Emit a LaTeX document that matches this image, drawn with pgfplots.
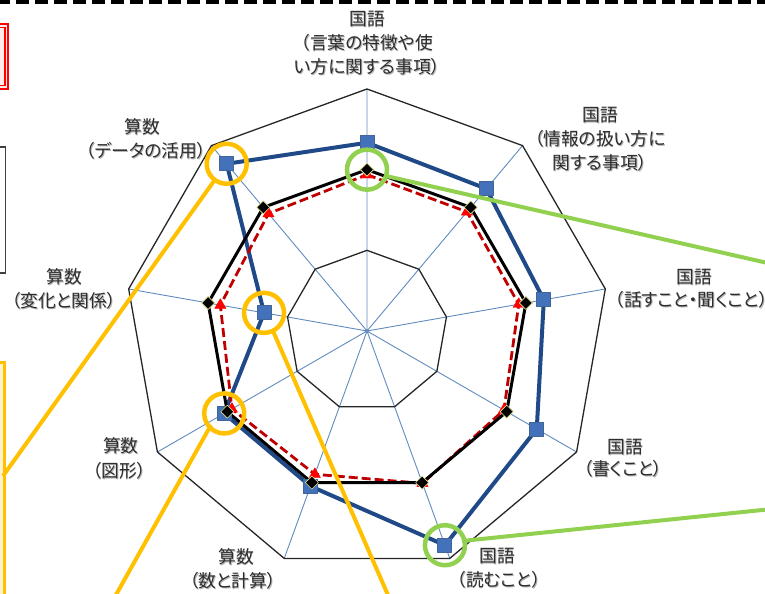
\documentclass[border=0pt]{standalone}
\usepackage{fontspec}
\setmainfont{Noto Sans CJK JP}[RawFeature={+palt}]
\usepackage{pgfplots}
\usepackage{pgfplotstable}
\pgfplotsset{compat=1.18}
\usepgfplotslibrary{polar}
\definecolor{spoke}{RGB}{95,140,190}
\definecolor{bline}{RGB}{31,73,135}
\definecolor{bfill}{RGB}{68,114,186}
\definecolor{rline}{RGB}{192,0,0}
\definecolor{gcirc}{RGB}{146,208,80}
\definecolor{ycirc}{RGB}{255,192,0}
\definecolor{ypale}{RGB}{255,242,204}
\definecolor{txt}{RGB}{45,45,45}
\definecolor{mborder}{RGB}{225,225,140}

\pgfplotstableread{
ang school pref nat
90  116.7 96.9 100
50  115.1 96.4 100
10  111.3 95.5 100
330 121.5 98.0 100
290 141.3 100.5 100
250 102.4 94.5 100
210 102.2 96.7 100
170 64.8  92.3 100
130 135.3 95.0 100
90  116.7 96.9 100
}\radardata

\pgfplotstableread{
ang ring
90  50
50  50
10  50
330 50
290 50
250 50
210 50
170 50
130 50
90  50
}\ringA
\pgfplotstableread{
ang ring
90  150
50  150
10  150
330 150
290 150
250 150
210 150
170 150
130 150
90  150
}\ringB

\newcommand{\lbl}[4][center]{%
  \node[anchor=#1, text=black!30, inner sep=0pt] at (#2+0.9,#3+0.9) {#4};
  \node[anchor=#1, text=txt, inner sep=0pt] at (#2,#3) {#4};}

\begin{document}
\begin{tikzpicture}
\useasboundingbox (0,0) rectangle (765bp,594bp);
\begin{scope}
\clip (0,0) rectangle (765bp,594bp);
\begin{scope}[x=1bp,y=-1bp,yshift=594bp]
  % top dashed border
  \draw[black, line width=4bp, dash pattern=on 13bp off 6bp] (-3,2) -- (770,2);
  % red double box
  \fill[red!8] (-5,24) rectangle (8.3,89);
  \draw[red, line width=2bp] (-5,24) -- (8.3,24) -- (8.3,89) -- (-5,89);
  \draw[red, line width=1.5bp] (-5,27.5) -- (4.8,27.5) -- (4.8,85.5) -- (-5,85.5);
  % black box
  \draw[black!75, line width=1.2bp] (-5,147) -- (5.3,147) -- (5.3,273) -- (-5,273);
  % yellow box
  \draw[ycirc, fill=ypale, line width=3bp] (-20,363) rectangle (4.5,620);
\end{scope}

\begin{polaraxis}[
  at={(367bp,263bp)}, anchor=center,
  scale only axis, width=484bp, height=484bp,
  xmin=0, xmax=360, ymin=0, ymax=150,
  xtick={10,50,90,130,170,210,250,290,330},
  xticklabel style={opacity=0, text opacity=0, draw=none},
  ytick=\empty,
  major tick length=0pt,
  xmajorgrids, grid style={spoke, line width=0.9bp},
  axis line style={draw=none},
  clip=false,
]
\addplot[black!85, line width=1.3bp, mark=none] table[x=ang,y=ring]{\ringA};
\addplot[black!85, line width=1.3bp, mark=none] table[x=ang,y=ring]{\ringB};
% school
\addplot[bline, line width=4bp, line join=round, mark=square*, mark size=7bp,
  mark options={solid, fill=bfill, draw=bline!85, line width=1bp}]
  table[x=ang,y=school]{\radardata};
% prefecture
\addplot[rline, line width=2.8bp, dash pattern=on 9bp off 4bp, line join=round,
  mark=triangle*, mark size=6.5bp, mark options={solid, fill=red, draw=red, line width=0.4bp}]
  table[x=ang,y=pref]{\radardata};
% national
\addplot[black, line width=3bp, line join=round, mark=square*, mark size=4.6bp,
  mark options={solid, rotate=45, fill=black, draw=mborder, line width=0.6bp}]
  table[x=ang,y=nat]{\radardata};
% annotation circles
\addplot[only marks, mark=o, mark size=20bp, mark options={draw=gcirc, line width=4.5bp}]
  coordinates {(90,100) (290,141.3)};
\addplot[only marks, mark=o, mark size=20bp, mark options={draw=ycirc, line width=4.5bp}]
  coordinates {(130,135.3) (170,64.8) (210,102.2)};
\end{polaraxis}

\begin{scope}[x=1bp,y=-1bp,yshift=594bp, font=\fontsize{17.8bp}{24bp}\selectfont]
  % callout lines
  \draw[gcirc, line width=4bp] (386,176) -- (772,264);
  \draw[gcirc, line width=4bp] (462,541) -- (772,509);
  \draw[ycirc, line width=4bp] (214,181) -- (3,476);
  \draw[ycirc, line width=4bp] (211,425) -- (112,602);
  \draw[ycirc, line width=4bp] (273,331) -- (391,602);
  % labels
  \lbl{367}{19}{国語}
  \lbl{367}{43}{（言葉の特徴や使}
  \lbl{367}{67}{い方に関する事項）}
  \lbl{600}{115}{国語}
  \lbl{600}{139}{（情報の扱い方に}
  \lbl{600}{163}{関する事項）}
  \lbl{694}{277}{国語}
  \lbl[west]{615}{300}{（話すこと・聞くこと）}
  \lbl{625}{447}{国語}
  \lbl{623}{469}{（書くこと）}
  \lbl{497}{556}{国語}
  \lbl{499}{580}{（読むこと）}
  \lbl{236}{557}{算数}
  \lbl{233}{581}{（数と計算）}
  \lbl{121}{446}{算数}
  \lbl{119}{471}{（図形）}
  \lbl{64}{277}{算数}
  \lbl{64}{301}{（変化と関係）}
  \lbl{142}{127}{算数}
  \lbl{146}{151}{（データの活用）}
\end{scope}
\end{scope}
\end{tikzpicture}
\end{document}
